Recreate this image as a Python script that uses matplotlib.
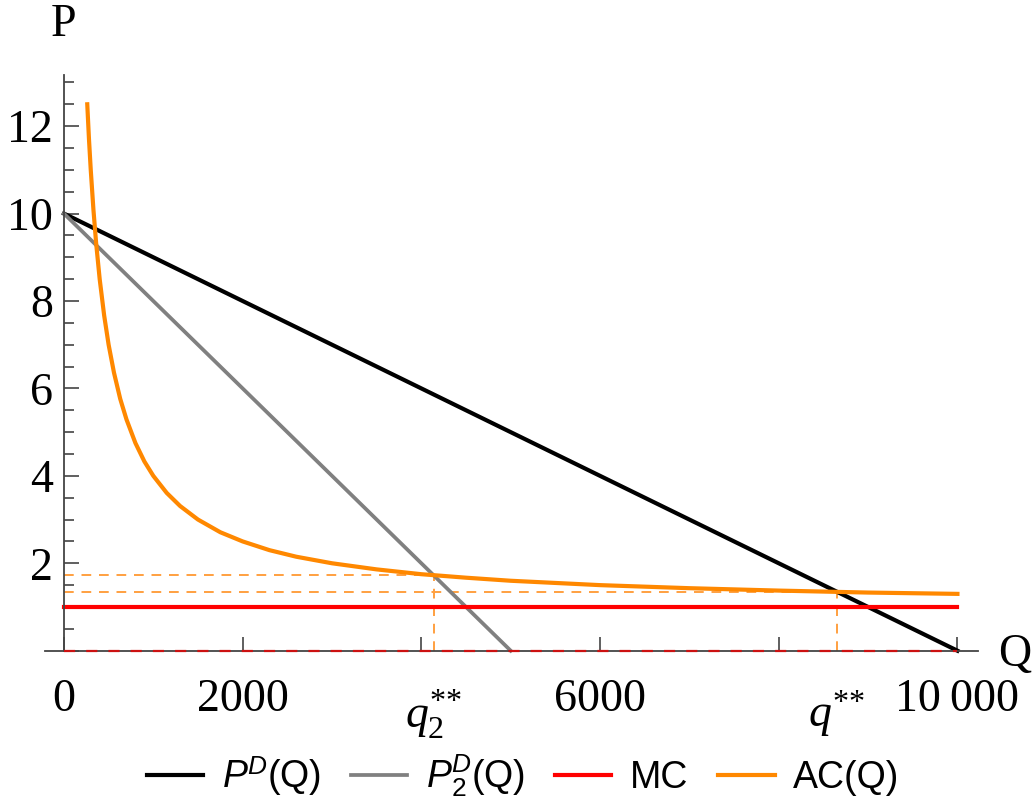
import matplotlib
matplotlib.use('Agg')
import matplotlib.pyplot as plt
from matplotlib.ticker import FixedLocator

# demand curves: (Q, P) end points
PD_Q = [0, 10000]
PD_P = [10, 0]
PD2_Q = [0, 5000]
PD2_P = [10, 0]

# marginal cost
MC_Q = [0, 10000]
MC_P = [1, 1]

# average cost curve
AC_Q = [261, 280, 300, 330, 360, 400, 450, 500, 560, 630, 700, 800, 900, 1000,
        1150, 1300, 1500, 1750, 2000, 2300, 2600, 3000, 3500, 4000, 4500, 5000,
        5500, 6000, 7000, 8000, 9000, 10000]
AC_P = [12.5, 11.71, 11.0, 10.09, 9.33, 8.5, 7.67, 7.0, 6.36, 5.76, 5.29, 4.75,
        4.33, 4.0, 3.61, 3.31, 3.0, 2.71, 2.5, 2.30, 2.15, 2.0, 1.86, 1.75, 1.67,
        1.6, 1.55, 1.5, 1.43, 1.375, 1.33, 1.3]

# equilibria (q, p)
Q2_STAR, P2_STAR = 4137, 1.725
Q_STAR, P_STAR = 8653, 1.347

X_TICKS = [0, 2000, 4000, 6000, 8000, 10000]
X_LABELS = ['0', '2000', '', '6000', '', '10\u2009000']
Q_LABELS = [r'$q_2^{{*}{*}}$', r'$q^{{*}{*}}$']
Y_TICKS = [0, 2, 4, 6, 8, 10, 12]
Y_LABELS = ['', '2', '4', '6', '8', '10', '12']
Y_MINOR = [0.5, 1, 1.5, 2.5, 3, 3.5, 4.5, 5, 5.5, 6.5, 7, 7.5, 8.5, 9, 9.5,
           10.5, 11, 11.5, 12.5, 13]

plt.rcParams['mathtext.fontset'] = 'custom'
plt.rcParams['mathtext.rm'] = 'Liberation Serif'
plt.rcParams['mathtext.it'] = 'Liberation Serif:italic'
plt.rcParams['mathtext.sf'] = 'Liberation Sans:italic'
plt.rcParams['mathtext.bf'] = 'Liberation Sans'

SERIF = ['Liberation Serif', 'DejaVu Serif']
AXC = '#444444'
ORANGE = '#ff8800'
DASH = '#ffa040'
FS = 33


def main():
    fig = plt.figure(figsize=(10.32, 8), dpi=100)
    ax = fig.add_axes([45 / 1032, 1 - 650.7 / 800, 933 / 1032, 575.7 / 800])
    ax.set_xlim(-212, 10230)
    ax.set_ylim(0, 13.17)

    # dashed guides
    dash = dict(ls=(0, (5, 4)), lw=1.4, color=DASH)
    ax.plot([0, Q2_STAR], [P2_STAR, P2_STAR], **dash)
    ax.plot([0, Q_STAR], [P_STAR, P_STAR], **dash)
    ax.plot([Q2_STAR, Q2_STAR], [0, P2_STAR], **dash)
    ax.plot([Q_STAR, Q_STAR], [0, P_STAR], **dash)

    ax.plot(PD_Q, PD_P, color='black', lw=3.0, label=r'$\mathsf{P}^{\mathsf{D}}$(Q)', clip_on=False)
    ax.plot(PD2_Q, PD2_P, color='#808080', lw=2.7,
            label=r'$\mathsf{P}_{\mathbf{2}}^{\mathsf{D}}$(Q)', clip_on=False)
    ax.plot(MC_Q, MC_P, color='red', lw=3.0, label='MC')
    ax.plot(AC_Q, AC_P, color=ORANGE, lw=3.0, label='AC(Q)')
    ax.plot([0, 10000], [0, 0], color='#cc1111', lw=1.6, ls=(0, (5, 5)), clip_on=False, zorder=5)

    for s in ['top', 'right']:
        ax.spines[s].set_visible(False)
    ax.spines['left'].set_position(('data', 0))
    for s in ['left', 'bottom']:
        ax.spines[s].set_color(AXC)
        ax.spines[s].set_linewidth(1.3)

    ax.xaxis.set_major_locator(FixedLocator(X_TICKS))
    ax.set_xticklabels(X_LABELS, fontfamily=SERIF, fontsize=FS)
    ax.xaxis.set_minor_locator(FixedLocator([Q2_STAR, Q_STAR]))
    ax.set_xticklabels(Q_LABELS, minor=True, fontsize=FS)
    ax.tick_params(axis='x', which='major', direction='in', length=10, width=1.2,
                   color=AXC, pad=20)
    ax.tick_params(axis='x', which='minor', length=0, pad=27)

    ax.yaxis.set_major_locator(FixedLocator(Y_TICKS))
    ax.set_yticklabels(Y_LABELS, fontfamily=SERIF, fontsize=FS)
    ax.yaxis.set_minor_locator(FixedLocator(Y_MINOR))
    ax.tick_params(axis='y', which='major', direction='in', length=11, width=1.2,
                   color=AXC, pad=8)
    ax.tick_params(axis='y', which='minor', direction='in', length=7, width=1.2, color=AXC)

    fig.text(63 / 1032, 1 - 25 / 800, 'P', fontfamily=SERIF, fontsize=FS,
             ha='center', va='center')
    fig.text(1015 / 1032, 1 - 655 / 800, 'Q', fontfamily=SERIF, fontsize=FS,
             ha='center', va='center')

    fig.legend(loc='center', bbox_to_anchor=(0.507, 0.03), ncol=4, frameon=False,
               prop={'family': 'Liberation Sans', 'size': 27}, handlelength=1.5,
               handletextpad=0.5, columnspacing=0.8)

    fig.savefig('out.png', dpi=100)


if __name__ == '__main__':
    main()
